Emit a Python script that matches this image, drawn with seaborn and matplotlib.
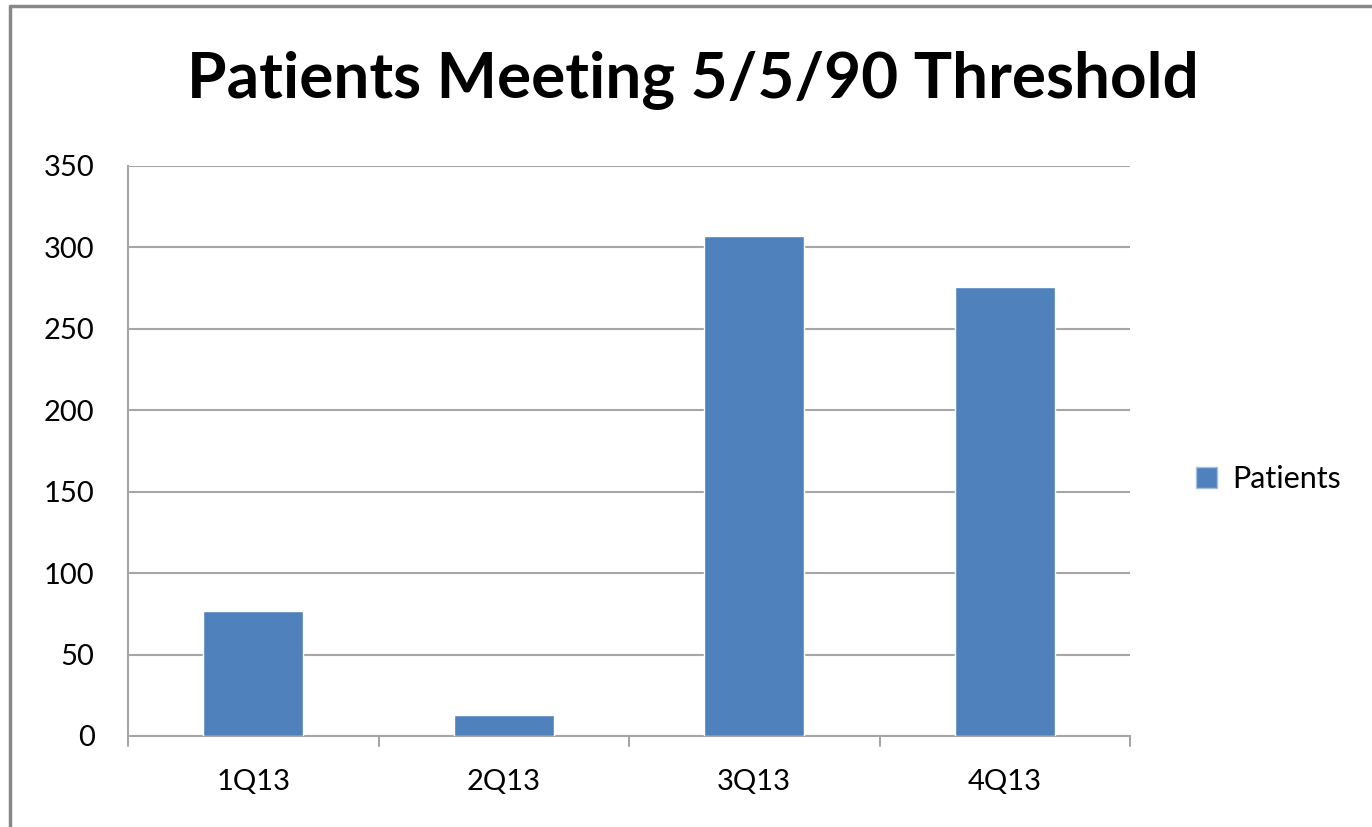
import matplotlib
matplotlib.use("Agg")
import matplotlib.pyplot as plt
import seaborn as sns
import pandas as pd
from matplotlib.lines import Line2D
from matplotlib.patches import Patch

# Werte
quarters = ["1Q13", "2Q13", "3Q13", "4Q13"]
patients = [77, 13, 307, 276]
y_ticks = [0, 50, 100, 150, 200, 250, 300, 350]

bar_color = "#4F81BD"
grid_color = "#A6A6A6"

sns.set_theme(style="white")
plt.rcParams["font.family"] = ["Lato", "DejaVu Sans"]
plt.rcParams["text.color"] = "black"
plt.rcParams["xtick.color"] = "black"
plt.rcParams["ytick.color"] = "black"

df = pd.DataFrame({"quarter": quarters, "patients": patients})

fig = plt.figure(figsize=(13.72, 8.27), dpi=100)
ax = fig.add_axes([128 / 1372, 1 - 736 / 827, 1002 / 1372, 570 / 827])

sns.barplot(data=df, x="quarter", y="patients", color=bar_color,
            width=0.4, saturation=1, ax=ax, zorder=3)

ax.set_ylim(0, 350)
ax.set_xlim(-0.5, len(quarters) - 0.5)
ax.set_yticks(y_ticks)
ax.set_yticklabels([str(v) for v in y_ticks], fontsize=21)
ax.set_xticks(range(len(quarters)))
ax.set_xticklabels(quarters, fontsize=21)
ax.set_xlabel("")
ax.set_ylabel("")

# Gitternetz und Achsen im Excel-Stil
ax.yaxis.grid(True, color=grid_color, linewidth=1.5, zorder=0)
for s in ["top", "right"]:
    ax.spines[s].set_visible(False)
ax.spines["left"].set_color(grid_color)
ax.spines["bottom"].set_color(grid_color)
ax.spines["left"].set_linewidth(1.5)
ax.spines["bottom"].set_linewidth(1.5)
ax.tick_params(axis="y", length=13, width=1.5, color=grid_color, pad=11,
               direction="out", labelcolor="black")
ax.tick_params(axis="x", length=0, pad=24, labelcolor="black")
# Tickmarken an den Kategoriegrenzen
for b in [i - 0.5 for i in range(len(quarters) + 1)]:
    ax.plot([b, b], [0, -0.018], transform=ax.get_xaxis_transform(),
            color=grid_color, linewidth=1.5, clip_on=False)

fig.text(0.505, 1 - 80 / 827, "Patients Meeting 5/5/90 Threshold",
         ha="center", va="center", fontsize=46, fontweight="bold", color="black")

handle = Patch(facecolor=bar_color, edgecolor="#A7C0DE")
fig.legend([handle], ["Patients"], loc="center left",
           bbox_to_anchor=(1168 / 1372, 1 - 479 / 827), frameon=False,
           fontsize=22, handlelength=0.7, handleheight=0.7, handletextpad=0.5,
           labelcolor="black")

# Rahmen links und oben
fig.add_artist(Line2D([10 / 1372, 10 / 1372], [0, 1 - 6 / 827],
                      transform=fig.transFigure, color="#888888", linewidth=2.5))
fig.add_artist(Line2D([10 / 1372, 1], [1 - 6 / 827, 1 - 6 / 827],
                      transform=fig.transFigure, color="#888888", linewidth=2.5))

fig.savefig("out.png", dpi=100)
